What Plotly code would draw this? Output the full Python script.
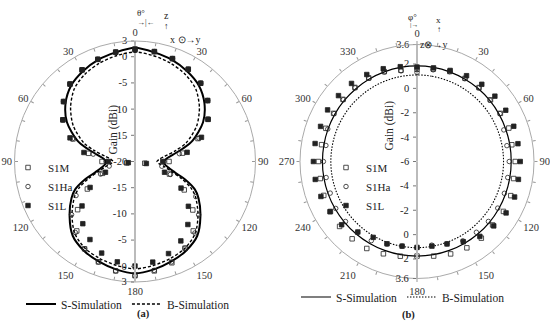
import plotly.graph_objects as go

W, H = 550, 332
FONT = "Liberation Serif"

# ---------------- panel (a) : theta cut ----------------
# simulation curves, right half (theta 0..180); left half is the mirror image in the picture
sim_theta_a = [0, 10, 20, 30, 40, 50, 60, 70, 75, 80, 85, 90, 95, 100, 105, 110, 115, 120, 130, 140, 150, 160, 170, 180]
s_sim_a = [1.7, 1.15, 0.65, -0.1, -1.05, -2.7, -5.0, -8.3, -10.6, -12.7, -14.0, -14.4, -14.3, -13.6, -12.2, -9.7, -7.4, -6.0, -3.7, -1.5, -0.4, 0.3, 0.9, 1.35]
b_sim_a = [0.9, 0.5, -0.05, -0.8, -1.95, -3.95, -6.4, -9.6, -12.0, -14.2, -15.4, -15.8, -15.4, -14.3, -12.9, -10.6, -8.3, -6.7, -4.3, -2.1, -0.9, -0.3, 0.15, 0.5]

# measured points every 10 deg, plot angle 0..350 (190..350 = left half, theta 170..10)
meas_theta = list(range(0, 360, 10))
s1m_a = [1.5, 1.3, 0.9, 0.3, -0.5, -1.9, -3.9, -7.2, -10.8, -13.5, -18.1, -13.0, -9.15, -5.6, -2.7, -0.9, 0.57, 1.2, 1.8,
         1.2, 0.4, -0.75, -2.7, -5.7, -9.5, -13.4, -18.4, -13.7, -11.0, -7.4, -4.1, -2.2, -0.7, 0.2, 0.75, 1.2]
s1ha_a = [1.3, 1.3, 0.9, 0.3, -0.5, -1.9, -3.9, -7.0, -11.4, -14.5, -14.8, -12.8, -6.6, -4.15, -2.2, -0.9, 0.4, 1.1, 1.8,
          1.2, 0.4, -0.75, -2.3, -4.2, -7.0, -13.0, -15.0, -14.5, -11.9, -7.3, -4.1, -2.2, -0.7, 0.2, 0.75, 1.2]
s1l_a = [1.3, 1.3, 0.9, 0.35, -0.5, -1.9, -3.9, -6.5, -9.9, -14.7, -17.8, -14.0, -9.85, -6.7, -4.3, -2.5, -1.3, -0.5, -0.05,
         -0.55, -1.4, -2.8, -4.5, -6.8, -10.1, -14.0, -18.7, -14.9, -10.1, -6.8, -4.1, -2.2, -0.7, 0.2, 0.75, 1.2]

# ---------------- panel (b) : phi cut ----------------
sim_theta_b = list(range(0, 370, 10))
s_sim_b = [1.84, 1.84, 1.83, 1.82, 1.81, 1.79, 1.77, 1.75, 1.74, 1.73, 1.73, 1.74, 1.75, 1.76, 1.76, 1.76, 1.76, 1.76, 1.76,
           1.76, 1.76, 1.76, 1.76, 1.76, 1.76, 1.76, 1.76, 1.76, 1.76, 1.77, 1.78, 1.79, 1.80, 1.82, 1.83, 1.84, 1.84]
b_sim_b = [1.10, 1.10, 1.10, 1.10, 1.10, 1.10, 1.10, 1.10, 1.10, 1.10, 1.10, 1.09, 1.09, 1.08, 1.08, 1.08, 1.07, 1.07, 1.07,
           1.07, 1.07, 1.07, 1.07, 1.07, 1.07, 1.07, 1.07, 1.07, 1.07, 1.08, 1.08, 1.09, 1.09, 1.10, 1.10, 1.10, 1.10]
s1m_b = [1.57, 1.7, 1.86, 1.88, 1.92, 1.87, 1.9, 2.02, 1.9, 2.06, 2.05, 2.19, 2.19, 2.1, 2.21, 2.18, 2.07, 1.88, 1.76,
         1.89, 2.06, 2.24, 2.28, 2.29, 2.2, 2.14, 2.06, 2.09, 1.95, 1.96, 1.9, 1.93, 1.93, 1.92, 1.85, 1.6]
s1ha_b = [1.3, 1.64, 1.84, 1.85, 1.88, 1.82, 1.86, 1.58, 1.49, 1.57, 1.56, 1.63, 1.65, 1.65, 1.58, 1.52, 1.18, 0.97, 1.07,
          1.05, 1.2, 1.5, 1.61, 1.66, 1.7, 1.58, 1.57, 1.68, 1.59, 1.79, 1.86, 1.89, 1.89, 1.88, 1.81, 1.55]
s1l_b = [1.75, 1.8, 1.95, 2.13, 2.27, 2.34, 2.41, 2.45, 2.41, 2.47, 2.45, 2.52, 2.44, 2.22, 2.02, 1.6, 1.2, 1.05, 1.05,
         1.05, 1.19, 1.19, 1.55, 2.07, 2.24, 2.39, 2.48, 2.5, 2.49, 2.42, 2.47, 2.41, 2.36, 2.24, 2.1, 1.9]

# tick labels
ang_ticks = list(range(0, 360, 10))
ang_text_a = ["0", "", "", "30", "", "", "60", "", "", "90", "", "", "120", "", "", "150", "", "",
              "180", "", "", "150", "", "", "120", "", "", "90", "", "", "60", "", "", "30", "", ""]
ang_text_b = [str(t) if t % 30 == 0 else "" for t in ang_ticks]
rad_ticks_a_up = [3, 0, -5, -10, -15, -20]
rad_ticks_a_dn = [3, 0, -5, -10, -15]
rad_ticks_b_up = [3.6, 2, 0, -2, -4, -6]
rad_ticks_b_dn = [3.6, 2, 0, -2, -4]


def mirror(theta, vals):
    th = list(theta) + [360 - t for t in reversed(theta[:-1])]
    rv = list(vals) + list(reversed(vals[:-1]))
    return th, rv


fig = go.Figure()

th, rv = mirror(sim_theta_a, s_sim_a)
fig.add_trace(go.Scatterpolar(r=rv, theta=th, mode="lines", name="S-Simulation", subplot="polar",
                              line=dict(color="black", width=2, shape="spline", smoothing=0.8), legend="legend2"))
th, rv = mirror(sim_theta_a, b_sim_a)
fig.add_trace(go.Scatterpolar(r=rv, theta=th, mode="lines", name="B-Simulation", subplot="polar",
                              line=dict(color="black", width=1.4, dash="3px,2px", shape="spline", smoothing=0.8),
                              legend="legend2"))

mk = dict(size=4.5, color="#222", line=dict(color="#222", width=0.8))
for name, vals, sym in [("S1M", s1m_a, "square-open"), ("S1Ha", s1ha_a, "circle-open"), ("S1L", s1l_a, "square")]:
    fig.add_trace(go.Scatterpolar(r=vals, theta=meas_theta, mode="markers", name=name, subplot="polar",
                                  marker=dict(mk, symbol=sym), legend="legend"))

fig.add_trace(go.Scatterpolar(r=s_sim_b, theta=sim_theta_b, mode="lines", name="S-Simulation", subplot="polar2",
                              line=dict(color="black", width=1.2, shape="spline"), legend="legend4"))
fig.add_trace(go.Scatterpolar(r=b_sim_b, theta=sim_theta_b, mode="lines", name="B-Simulation", subplot="polar2",
                              line=dict(color="black", width=1.1, dash="1.5px,1.5px", shape="spline"), legend="legend4"))
for name, vals, sym in [("S1M", s1m_b, "square-open"), ("S1Ha", s1ha_b, "circle-open"), ("S1L", s1l_b, "square")]:
    fig.add_trace(go.Scatterpolar(r=vals, theta=meas_theta, mode="markers", name=name, subplot="polar2",
                                  marker=dict(mk, symbol=sym), legend="legend3"))

# empty carriers for the lower radial axes
for sp in ["polar3", "polar4"]:
    fig.add_trace(go.Scatterpolar(r=[], theta=[], subplot=sp, showlegend=False, hoverinfo="skip"))

tf = dict(family=FONT, size=10.5, color="#222")


def ang_axis(text, ticks):
    return dict(rotation=90, direction="clockwise", tickmode="array", tickvals=ang_ticks, ticktext=text,
                ticks=ticks, ticklen=3, tickcolor="#999", linecolor="#aaa", linewidth=1,
                showgrid=False, showline=True, tickfont=dict(family=FONT, size=10.5, color="#333"))


def rad_axis(rng, vals, angle, side, tickangle):
    return dict(range=rng, tickmode="array", tickvals=vals, ticktext=[("%g" % v) for v in vals], angle=angle, side=side,
                showline=True, linecolor="#bbb", linewidth=2, ticks="outside", ticklen=3, tickcolor="#777",
                showgrid=False, tickfont=tf, tickangle=tickangle, layer="below traces")


dom_a = dict(x=[14.5 / W, 255.5 / W], y=[(H - 282) / H, (H - 41) / H])
dom_b = dict(x=[300 / W, 534 / W], y=[(H - 278.5) / H, (H - 44.5) / H])

fig.update_layout(
    width=W, height=H, margin=dict(l=0, r=0, t=0, b=0, autoexpand=False), paper_bgcolor="white",
    font=dict(family=FONT, color="#222"),
    polar=dict(domain=dom_a, bgcolor="rgba(0,0,0,0)", angularaxis=ang_axis(ang_text_a, "inside"),
               radialaxis=rad_axis([-20, 3], rad_ticks_a_up, 90, "counterclockwise", 90)),
    polar3=dict(domain=dom_a, bgcolor="rgba(0,0,0,0)", angularaxis=dict(visible=False, rotation=90, direction="clockwise"),
                radialaxis=rad_axis([-20, 3], rad_ticks_a_dn, 270, "clockwise", -90)),
    polar2=dict(domain=dom_b, bgcolor="rgba(0,0,0,0)", angularaxis=ang_axis(ang_text_b, "outside"),
                radialaxis=rad_axis([-6, 3.6], rad_ticks_b_up, 90, "counterclockwise", 90)),
    polar4=dict(domain=dom_b, bgcolor="rgba(0,0,0,0)", angularaxis=dict(visible=False, rotation=90, direction="clockwise"),
                radialaxis=rad_axis([-6, 3.6], rad_ticks_b_dn, 270, "clockwise", -90)),
    legend=dict(x=8 / W, y=(H - 153) / H, xanchor="left", yanchor="top", bgcolor="rgba(0,0,0,0)",
                font=dict(family=FONT, size=11)),
    legend3=dict(x=326 / W, y=(H - 153) / H, xanchor="left", yanchor="top", bgcolor="rgba(0,0,0,0)",
                 font=dict(family=FONT, size=11)),
    legend2=dict(x=21 / W, y=(H - 304) / H, xanchor="left", yanchor="middle", orientation="h", bgcolor="rgba(0,0,0,0)",
                 font=dict(family=FONT, size=11.5)),
    legend4=dict(x=296 / W, y=(H - 297) / H, xanchor="left", yanchor="middle", orientation="h", bgcolor="rgba(0,0,0,0)",
                 font=dict(family=FONT, size=11.5)),
)

ann = []


def A(x, y, text, size=10, **kw):
    ann.append(dict(x=x / W, y=(H - y) / H, xref="paper", yref="paper", text=text, showarrow=False,
                    font=dict(family=FONT, size=size, color="#222"), **kw))


A(135, 322, "<b>(a)</b>", 10.5)
A(417, 323, "<b>(b)</b>", 10.5)
A(104, 103, "Gain (dBi)", 11.5, textangle=-90)
A(398, 126, "Gain (dBi)", 11.5, textangle=-90)
# angle symbols and coordinate icons
A(135, 6, "θ°", 9)
A(135, 16, "→|←", 8)
A(419, 10, "φ°", 9)
A(420, 19, "|→", 7)
A(162, 8, "z", 10)
A(162, 19, "↑", 9)
A(168, 32, "x ⊙→y", 10)
A(443, 13, "x", 9)
A(443, 23, "↑", 8)
A(449, 37, "z⊗→y", 10)
fig.update_layout(annotations=ann)

fig.write_html("out.html", config={"displayModeBar": False},
               post_script="document.body.style.margin='0px';document.body.style.overflow='hidden';")
